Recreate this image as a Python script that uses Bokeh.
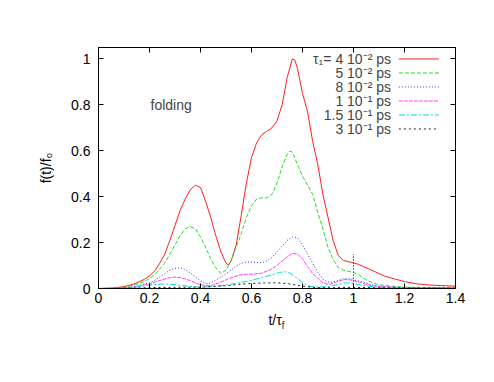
from bokeh.plotting import figure
from bokeh.models import Range1d, LinearAxis, FixedTicker, Label, CustomJSTickFormatter
from bokeh.embed import file_html
from bokeh.resources import INLINE

FONT = "Liberation Sans"

# ---------------- data ----------------
x_ticks = [0, 0.2, 0.4, 0.6, 0.8, 1.0, 1.2, 1.4]
x_tick_labels = ["0", "0.2", "0.4", "0.6", "0.8", "1", "1.2", "1.4"]
y_ticks = [0, 0.2, 0.4, 0.6, 0.8, 1.0]
y_tick_labels = ["0", "0.2", "0.4", "0.6", "0.8", "1"]

series_labels = ["τ₁= 4 10⁻² ps", "5 10⁻² ps", "8 10⁻² ps",
                 "1 10⁻¹ ps", "1.5 10⁻¹ ps", "3 10⁻¹ ps"]

t_red = [0, 0.05, 0.1, 0.14, 0.18, 0.2, 0.22, 0.24, 0.26, 0.28, 0.30, 0.32, 0.34, 0.36, 0.38,
         0.40, 0.42, 0.44, 0.46, 0.48, 0.50, 0.51, 0.52, 0.54, 0.56, 0.58, 0.60, 0.62, 0.64,
         0.66, 0.68, 0.70, 0.72, 0.74, 0.76, 0.77, 0.78, 0.80, 0.82, 0.84, 0.86, 0.88, 0.90,
         0.92, 0.94, 0.96, 0.98, 1.0, 1.02, 1.04, 1.06, 1.08, 1.10, 1.12, 1.15, 1.2, 1.25,
         1.3, 1.4]
f_red = [0, 0.001, 0.008, 0.02, 0.04, 0.055, 0.075, 0.11, 0.15, 0.21, 0.275, 0.34, 0.39, 0.43, 0.45,
         0.44, 0.38, 0.31, 0.23, 0.16, 0.11, 0.103, 0.12, 0.19, 0.32, 0.46, 0.57, 0.635, 0.67,
         0.685, 0.70, 0.73, 0.80, 0.92, 1.0, 0.995, 0.96, 0.85, 0.77, 0.64, 0.54, 0.41, 0.31,
         0.21, 0.145, 0.122, 0.117, 0.112, 0.105, 0.095, 0.085, 0.075, 0.065, 0.055, 0.045, 0.03, 0.02,
         0.015, 0.01]

t_green = [0, 0.05, 0.1, 0.14, 0.18, 0.2, 0.22, 0.24, 0.26, 0.28, 0.30, 0.32, 0.34, 0.36, 0.38,
           0.40, 0.42, 0.44, 0.46, 0.48, 0.50, 0.52, 0.54, 0.56, 0.58, 0.60, 0.62, 0.64, 0.66,
           0.68, 0.70, 0.72, 0.74, 0.75, 0.76, 0.78, 0.80, 0.82, 0.84, 0.86, 0.88, 0.90, 0.92,
           0.94, 0.96, 0.98, 1.0, 1.02, 1.04, 1.06, 1.08, 1.10, 1.15, 1.2, 1.3, 1.4]
f_green = [0, 0.001, 0.005, 0.015, 0.03, 0.045, 0.06, 0.085, 0.11, 0.15, 0.19, 0.23, 0.26, 0.27, 0.26,
           0.225, 0.18, 0.13, 0.09, 0.065, 0.08, 0.12, 0.18, 0.24, 0.31, 0.36, 0.39, 0.395, 0.395,
           0.41, 0.46, 0.53, 0.585, 0.598, 0.595, 0.54, 0.49, 0.45, 0.41, 0.33, 0.26, 0.18, 0.125,
           0.092, 0.08, 0.075, 0.07, 0.06, 0.045, 0.032, 0.022, 0.016, 0.01, 0.006, 0.004, 0.003]

t_blue = [0, 0.1, 0.15, 0.2, 0.22, 0.24, 0.26, 0.28, 0.30, 0.32, 0.34, 0.36, 0.38, 0.40, 0.42,
          0.43, 0.45, 0.48, 0.50, 0.52, 0.54, 0.56, 0.58, 0.60, 0.62, 0.64, 0.66, 0.68, 0.70,
          0.72, 0.74, 0.76, 0.78, 0.80, 0.82, 0.84, 0.86, 0.88, 0.90, 0.92, 0.94, 0.96, 0.98,
          1.0, 1.0, 1.0, 1.0, 1.02, 1.04, 1.06, 1.08, 1.10, 1.15, 1.2, 1.3, 1.4]
f_blue = [0, 0.003, 0.01, 0.025, 0.035, 0.05, 0.065, 0.08, 0.088, 0.09, 0.083, 0.068, 0.05, 0.033, 0.022,
          0.02, 0.03, 0.05, 0.065, 0.08, 0.098, 0.11, 0.115, 0.115, 0.113, 0.113, 0.12, 0.135, 0.16,
          0.185, 0.21, 0.225, 0.22, 0.19, 0.15, 0.11, 0.07, 0.04, 0.028, 0.028, 0.035, 0.042, 0.043,
          0.04, 0.15, 0.0, 0.038, 0.033, 0.028, 0.02, 0.014, 0.01, 0.006, 0.004, 0.003, 0.003]

t_mag = [0, 0.1, 0.15, 0.2, 0.24, 0.27, 0.30, 0.33, 0.36, 0.39, 0.42, 0.45, 0.48, 0.51, 0.55,
         0.58, 0.61, 0.64, 0.67, 0.70, 0.73, 0.76, 0.78, 0.80, 0.82, 0.84, 0.86, 0.88, 0.90,
         0.92, 0.94, 0.97, 1.0, 1.03, 1.06, 1.1, 1.2, 1.4]
f_mag = [0, 0.002, 0.008, 0.02, 0.035, 0.045, 0.05, 0.045, 0.034, 0.02, 0.012, 0.015, 0.028, 0.042, 0.058,
         0.062, 0.063, 0.067, 0.08, 0.10, 0.13, 0.153, 0.15, 0.13, 0.095, 0.065, 0.045, 0.025, 0.018,
         0.022, 0.032, 0.04, 0.035, 0.025, 0.015, 0.008, 0.004, 0.002]

t_cyan = [0, 0.1, 0.15, 0.2, 0.25, 0.3, 0.35, 0.4, 0.45, 0.5, 0.55, 0.6, 0.64, 0.68, 0.71,
          0.73, 0.75, 0.78, 0.80, 0.82, 0.85, 0.90, 0.94, 0.97, 1.0, 1.03, 1.08, 1.15, 1.4]
f_cyan = [0, 0.002, 0.007, 0.015, 0.02, 0.017, 0.01, 0.005, 0.008, 0.015, 0.025, 0.035, 0.048, 0.06, 0.07,
          0.073, 0.068, 0.045, 0.025, 0.012, 0.006, 0.008, 0.018, 0.025, 0.022, 0.015, 0.007, 0.003, 0.001]

t_black = [0, 0.1, 0.2, 0.3, 0.4, 0.5, 0.55, 0.6, 0.65, 0.7, 0.75, 0.8, 0.85, 0.9, 1.0, 1.1, 1.4]
f_black = [0, 0.001, 0.004, 0.005, 0.006, 0.012, 0.018, 0.022, 0.024, 0.025, 0.02, 0.01, 0.004, 0.003, 0.005, 0.003, 0.001]

series = [
    (t_red, f_red, "#ff2020", "solid"),
    (t_green, f_green, "#20e020", "4 2"),
    (t_blue, f_blue, "#3030ff", "1 2"),
    (t_mag, f_mag, "#ff40ff", "4 1"),
    (t_cyan, f_cyan, "#00d8d8", "6 2 2 2"),
    (t_black, f_black, "#202020", "2 3"),
]

# ---------------- figure ----------------
p = figure(width=486, height=374, output_backend="svg", toolbar_location=None,
           x_range=Range1d(0, 1.4), y_range=Range1d(0, 1.05),
           min_border_left=98, min_border_right=31, min_border_top=47, min_border_bottom=86)
p.grid.visible = False
p.outline_line_color = "black"
p.outline_line_width = 1
p.background_fill_color = "white"
p.border_fill_color = "white"

blank = CustomJSTickFormatter(code="return ''")

def style_axis(ax, ticks, labels=None):
    ax.ticker = FixedTicker(ticks=ticks)
    ax.major_tick_in = 5
    ax.major_tick_out = 0
    ax.minor_tick_line_color = None
    ax.axis_line_color = "black"
    ax.major_tick_line_color = "black"
    ax.major_label_text_font = FONT
    ax.major_label_text_font_size = "14px"
    ax.major_label_text_color = "black"
    ax.axis_label_text_font = FONT
    ax.axis_label_text_font_style = "normal"
    ax.axis_label_text_color = "black"
    if labels is None:
        ax.formatter = blank
    else:
        ax.major_label_overrides = {t: l for t, l in zip(ticks, labels)}

style_axis(p.xaxis[0], x_ticks, x_tick_labels)
style_axis(p.yaxis[0], y_ticks, y_tick_labels)
p.xaxis[0].major_label_standoff = 4
p.yaxis[0].major_label_standoff = 8

p.yaxis[0].axis_label = "f(t)/f₀"
p.yaxis[0].axis_label_text_font_size = "14px"
p.yaxis[0].axis_label_standoff = 14

# x label "t/τ" with subscript "f" (second, tick-less axis carries the subscript)
p.xaxis[0].axis_label = "t/τ\u00a0"
p.xaxis[0].axis_label_text_font_size = "14px"
p.xaxis[0].axis_label_standoff = 6

sub_axis = LinearAxis(ticker=FixedTicker(ticks=[]), formatter=blank)
sub_axis.axis_line_color = None
sub_axis.major_tick_line_color = None
sub_axis.minor_tick_line_color = None
sub_axis.major_label_text_font_size = "0px"
sub_axis.axis_label = "\u00a0" * 4 + "f"
sub_axis.axis_label_text_font = FONT
sub_axis.axis_label_text_font_size = "11px"
sub_axis.axis_label_text_font_style = "normal"
sub_axis.axis_label_standoff = -12
p.add_layout(sub_axis, "below")

top = LinearAxis()
style_axis(top, x_ticks)
p.add_layout(top, "above")
right = LinearAxis()
style_axis(right, y_ticks)
p.add_layout(right, "right")

for t, f, c, d in series:
    p.line(t, f, line_color=c, line_width=1, line_dash=d)

# annotation
p.add_layout(Label(x=0.204, y=0.80, text="folding", text_font=FONT, text_font_size="14px",
                   text_baseline="middle", text_align="left"))

# legend (gnuplot style: text right-aligned, sample on the right)
leg_text_x = 1.147
leg_x0, leg_x1 = 1.178, 1.335
leg_y0, leg_dy = 1.0, 0.061
for i, (t, f, c, d) in enumerate(series):
    yy = leg_y0 - i * leg_dy
    p.add_layout(Label(x=leg_text_x, y=yy, text=series_labels[i], text_font=FONT,
                       text_font_size="14px", text_baseline="middle", text_align="right"))
    p.line([leg_x0, leg_x1], [yy, yy], line_color=c, line_width=1, line_dash=d)

open("out.html", "w").write(file_html(p, INLINE))
